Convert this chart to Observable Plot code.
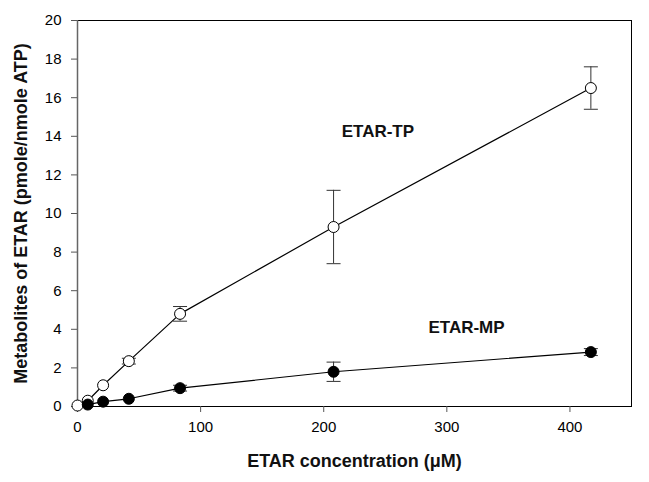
<!DOCTYPE html>
<html><head><meta charset="utf-8">
<script src="https://cdn.jsdelivr.net/npm/d3@7"></script>
<script src="https://cdn.jsdelivr.net/npm/@observablehq/plot@0.6"></script>
<style>body{margin:0;background:#fff;font-family:"Liberation Sans",Arial,sans-serif}</style>
</head><body><div id="chart"></div>
<script>
const concentration = [0, 8.33, 20.8, 41.7, 83.3, 208, 417];
const tpMean = [0.05, 0.3, 1.1, 2.35, 4.8, 9.3, 16.5];
const tpErr = [0.05, 0.1, 0.1, 0.15, 0.38, 1.9, 1.1];
const mpMean = [0.0, 0.1, 0.25, 0.4, 0.95, 1.8, 2.82];
const mpErr = [0.0, 0.05, 0.05, 0.08, 0.15, 0.5, 0.18];
const xTicks = [0, 100, 200, 300, 400];
const yTicks = [0, 2, 4, 6, 8, 10, 12, 14, 16, 18, 20];
const seriesLabels = [{x: 244, y: 14.25, text: "ETAR-TP"}, {x: 316, y: 4.1, text: "ETAR-MP"}];

const tp = concentration.map((c, i) => ({x: c, y: tpMean[i], e: tpErr[i]}));
const mp = concentration.map((c, i) => ({x: c, y: mpMean[i], e: mpErr[i]})).filter(d => d.x > 0);

const cap = {draw(ctx, size) { const w = 7; ctx.moveTo(-w, 0); ctx.lineTo(w, 0); }};
function errMarks(data) {
  const d = data.filter(p => p.e > 0.12);
  return [
    Plot.ruleX(d, {x: "x", y1: p => p.y - p.e, y2: p => p.y + p.e, stroke: "#333", strokeWidth: 1}),
    Plot.dot(d, {x: "x", y: p => p.y + p.e, symbol: cap, r: 7, stroke: "#333", strokeWidth: 1, fill: "none"}),
    Plot.dot(d, {x: "x", y: p => p.y - p.e, symbol: cap, r: 7, stroke: "#333", strokeWidth: 1, fill: "none"})
  ];
}

const plot = Plot.plot({
  width: 649, height: 482,
  marginLeft: 77, marginRight: 18, marginTop: 20, marginBottom: 76,
  style: {fontFamily: "Liberation Sans, Arial, sans-serif", fontSize: "15px", color: "#000", background: "#fff"},
  x: {domain: [0, 450], ticks: xTicks, label: null},
  y: {domain: [0, 20], ticks: yTicks, label: null},
  marks: [
    Plot.frame({stroke: "#000", strokeWidth: 1}),
    Plot.axisX(xTicks, {tickSize: 6, tickPadding: 9, fontSize: 15, stroke: "#555", label: null}),
    Plot.axisY(yTicks, {tickSize: 6, tickPadding: 10, fontSize: 15, stroke: "#555", label: null}),
    Plot.ruleX([0], {stroke: "#666", strokeWidth: 1.5}),
    ...errMarks(tp), ...errMarks(mp),
    Plot.line(tp, {x: "x", y: "y", stroke: "#000", strokeWidth: 1.2}),
    Plot.line(mp, {x: "x", y: "y", stroke: "#000", strokeWidth: 1.2}),
    Plot.dot(tp, {x: "x", y: "y", r: 5.5, fill: "#fff", stroke: "#000", strokeWidth: 1}),
    Plot.dot(mp, {x: "x", y: "y", r: 5.5, fill: "#000", stroke: "#000", strokeWidth: 1}),
    Plot.text(seriesLabels, {x: "x", y: "y", text: "text", fontSize: 17, fontWeight: "bold", fill: "#111"}),
    Plot.text(["ETAR concentration (μM)"], {frameAnchor: "bottom", dy: 60, fontSize: 18, fontWeight: "bold", fill: "#111"}),
    Plot.text(["Metabolites of ETAR (pmole/nmole ATP)"], {frameAnchor: "left", textAnchor: "middle", dx: -56, rotate: -90, fontSize: 18, fontWeight: "bold", fill: "#111"})
  ]
});
document.getElementById("chart").append(plot);
</script></body></html>
